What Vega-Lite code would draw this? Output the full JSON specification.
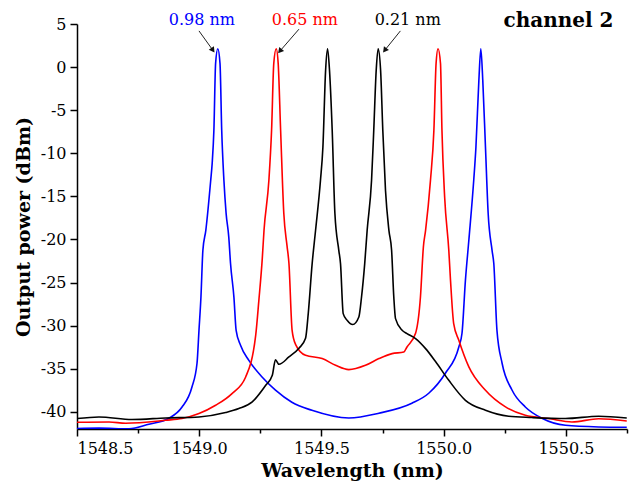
{
  "$schema": "https://vega.github.io/schema/vega-lite/v6.json",
  "width": 550,
  "height": 405,
  "autosize": {"type": "none"},
  "padding": {"left": 77, "top": 24, "right": 2, "bottom": 58},
  "background": "white",
  "config": {
    "view": {"stroke": null},
    "font": "DejaVu Serif",
    "axis": {
      "domainColor": "black", "domainWidth": 1.5, "tickColor": "black", "tickWidth": 1.5,
      "labelFont": "DejaVu Serif", "labelFontSize": 16, "labelColor": "black",
      "titleFont": "DejaVu Serif", "titleFontSize": 19, "titleFontWeight": "bold", "titleColor": "black",
      "grid": false, "labelOverlap": false
    }
  },
  "datasets": {
    "spectra": [
      {"s":"blue","wl":1548.500,"p":-41.95},{"s":"blue","wl":1548.590,"p":-41.9},{"s":"blue","wl":1548.713,"p":-41.97},{"s":"blue","wl":1548.794,"p":-41.45},{"s":"blue","wl":1548.876,"p":-40.75},{"s":"blue","wl":1548.929,"p":-39.48},{"s":"blue","wl":1548.970,"p":-37.16},{"s":"blue","wl":1548.991,"p":-34.37},{"s":"blue","wl":1548.999,"p":-30.55},{"s":"blue","wl":1549.007,"p":-26.72},{"s":"blue","wl":1549.015,"p":-21.26},{"s":"blue","wl":1549.027,"p":-18.94},{"s":"blue","wl":1549.047,"p":-13.14},{"s":"blue","wl":1549.053,"p":-11.17},{"s":"blue","wl":1549.060,"p":-7.34},{"s":"blue","wl":1549.067,"p":0.43},{"s":"blue","wl":1549.076,"p":2.13},{"s":"blue","wl":1549.085,"p":0.43},{"s":"blue","wl":1549.092,"p":-7.34},{"s":"blue","wl":1549.101,"p":-13.14},{"s":"blue","wl":1549.110,"p":-16.97},{"s":"blue","wl":1549.121,"p":-19.76},{"s":"blue","wl":1549.128,"p":-22.77},{"s":"blue","wl":1549.142,"p":-26.72},{"s":"blue","wl":1549.151,"p":-30.55},{"s":"blue","wl":1549.169,"p":-32.29},{"s":"blue","wl":1549.203,"p":-34.03},{"s":"blue","wl":1549.258,"p":-36.0},{"s":"blue","wl":1549.312,"p":-37.5},{"s":"blue","wl":1549.379,"p":-38.9},{"s":"blue","wl":1549.461,"p":-39.83},{"s":"blue","wl":1549.612,"p":-40.72},{"s":"blue","wl":1549.735,"p":-40.17},{"s":"blue","wl":1549.870,"p":-39.01},{"s":"blue","wl":1549.939,"p":-37.85},{"s":"blue","wl":1550.007,"p":-35.53},{"s":"blue","wl":1550.062,"p":-32.48},{"s":"blue","wl":1550.075,"p":-30.89},{"s":"blue","wl":1550.089,"p":-24.75},{"s":"blue","wl":1550.103,"p":-20.10},{"s":"blue","wl":1550.123,"p":-13.14},{"s":"blue","wl":1550.132,"p":-9.28},{"s":"blue","wl":1550.144,"p":-1.54},{"s":"blue","wl":1550.152,"p":2.13},{"s":"blue","wl":1550.160,"p":-1.54},{"s":"blue","wl":1550.171,"p":-9.28},{"s":"blue","wl":1550.182,"p":-16.97},{"s":"blue","wl":1550.198,"p":-21.26},{"s":"blue","wl":1550.205,"p":-22.77},{"s":"blue","wl":1550.218,"p":-30.55},{"s":"blue","wl":1550.239,"p":-34.37},{"s":"blue","wl":1550.280,"p":-37.5},{"s":"blue","wl":1550.334,"p":-39.44},{"s":"blue","wl":1550.402,"p":-40.75},{"s":"blue","wl":1550.498,"p":-41.57},{"s":"blue","wl":1550.634,"p":-41.76},{"s":"blue","wl":1550.749,"p":-41.8},
      {"s":"red","wl":1548.500,"p":-41.22},{"s":"red","wl":1548.631,"p":-41.18},{"s":"red","wl":1548.699,"p":-41.33},{"s":"red","wl":1548.863,"p":-40.99},{"s":"red","wl":1548.929,"p":-40.79},{"s":"red","wl":1548.999,"p":-40.21},{"s":"red","wl":1549.067,"p":-39.25},{"s":"red","wl":1549.134,"p":-37.89},{"s":"red","wl":1549.190,"p":-35.96},{"s":"red","wl":1549.231,"p":-31.13},{"s":"red","wl":1549.244,"p":-27.07},{"s":"red","wl":1549.258,"p":-22.2},{"s":"red","wl":1549.265,"p":-18.97},{"s":"red","wl":1549.285,"p":-13.14},{"s":"red","wl":1549.296,"p":-7.34},{"s":"red","wl":1549.305,"p":0.43},{"s":"red","wl":1549.315,"p":2.13},{"s":"red","wl":1549.323,"p":0.43},{"s":"red","wl":1549.333,"p":-7.34},{"s":"red","wl":1549.346,"p":-16.97},{"s":"red","wl":1549.359,"p":-20.7},{"s":"red","wl":1549.367,"p":-22.77},{"s":"red","wl":1549.380,"p":-30.55},{"s":"red","wl":1549.394,"p":-32.17},{"s":"red","wl":1549.435,"p":-33.45},{"s":"red","wl":1549.503,"p":-33.83},{"s":"red","wl":1549.558,"p":-34.61},{"s":"red","wl":1549.612,"p":-35.11},{"s":"red","wl":1549.680,"p":-34.61},{"s":"red","wl":1549.735,"p":-33.83},{"s":"red","wl":1549.789,"p":-33.25},{"s":"red","wl":1549.837,"p":-33.06},{"s":"red","wl":1549.850,"p":-32.48},{"s":"red","wl":1549.885,"p":-30.89},{"s":"red","wl":1549.905,"p":-26.68},{"s":"red","wl":1549.917,"p":-20.88},{"s":"red","wl":1549.926,"p":-18.94},{"s":"red","wl":1549.946,"p":-13.14},{"s":"red","wl":1549.960,"p":-7.34},{"s":"red","wl":1549.969,"p":0.43},{"s":"red","wl":1549.977,"p":2.13},{"s":"red","wl":1549.987,"p":0.43},{"s":"red","wl":1549.993,"p":-7.34},{"s":"red","wl":1550.004,"p":-15.08},{"s":"red","wl":1550.021,"p":-21.26},{"s":"red","wl":1550.028,"p":-24.75},{"s":"red","wl":1550.041,"p":-29.77},{"s":"red","wl":1550.062,"p":-31.71},{"s":"red","wl":1550.103,"p":-34.80},{"s":"red","wl":1550.171,"p":-37.51},{"s":"red","wl":1550.253,"p":-39.44},{"s":"red","wl":1550.334,"p":-40.41},{"s":"red","wl":1550.430,"p":-40.79},{"s":"red","wl":1550.525,"p":-41.18},{"s":"red","wl":1550.634,"p":-40.81},{"s":"red","wl":1550.749,"p":-41.07},
      {"s":"black","wl":1548.500,"p":-40.79},{"s":"black","wl":1548.590,"p":-40.60},{"s":"black","wl":1548.725,"p":-40.90},{"s":"black","wl":1548.863,"p":-40.72},{"s":"black","wl":1548.999,"p":-40.60},{"s":"black","wl":1549.108,"p":-40.09},{"s":"black","wl":1549.162,"p":-39.63},{"s":"black","wl":1549.217,"p":-38.86},{"s":"black","wl":1549.272,"p":-36.93},{"s":"black","wl":1549.299,"p":-35.77},{"s":"black","wl":1549.312,"p":-33.97},{"s":"black","wl":1549.326,"p":-34.49},{"s":"black","wl":1549.367,"p":-33.64},{"s":"black","wl":1549.408,"p":-32.63},{"s":"black","wl":1549.435,"p":-31.47},{"s":"black","wl":1549.446,"p":-28.61},{"s":"black","wl":1549.462,"p":-22.81},{"s":"black","wl":1549.476,"p":-18.94},{"s":"black","wl":1549.496,"p":-13.14},{"s":"black","wl":1549.506,"p":-9.28},{"s":"black","wl":1549.517,"p":-0.38},{"s":"black","wl":1549.525,"p":2.13},{"s":"black","wl":1549.533,"p":-0.38},{"s":"black","wl":1549.544,"p":-7.34},{"s":"black","wl":1549.555,"p":-16.97},{"s":"black","wl":1549.571,"p":-21.26},{"s":"black","wl":1549.578,"p":-22.81},{"s":"black","wl":1549.589,"p":-28.61},{"s":"black","wl":1549.605,"p":-29.39},{"s":"black","wl":1549.628,"p":-29.88},{"s":"black","wl":1549.653,"p":-29.0},{"s":"black","wl":1549.664,"p":-26.68},{"s":"black","wl":1549.677,"p":-22.81},{"s":"black","wl":1549.687,"p":-18.94},{"s":"black","wl":1549.705,"p":-13.14},{"s":"black","wl":1549.714,"p":-7.34},{"s":"black","wl":1549.724,"p":-0.38},{"s":"black","wl":1549.732,"p":2.13},{"s":"black","wl":1549.742,"p":-0.38},{"s":"black","wl":1549.751,"p":-7.34},{"s":"black","wl":1549.762,"p":-14.30},{"s":"black","wl":1549.776,"p":-18.94},{"s":"black","wl":1549.787,"p":-21.26},{"s":"black","wl":1549.796,"p":-26.68},{"s":"black","wl":1549.803,"p":-29.19},{"s":"black","wl":1549.830,"p":-30.55},{"s":"black","wl":1549.850,"p":-30.93},{"s":"black","wl":1549.885,"p":-31.51},{"s":"black","wl":1549.926,"p":-32.67},{"s":"black","wl":1549.966,"p":-34.14},{"s":"black","wl":1550.021,"p":-36.35},{"s":"black","wl":1550.089,"p":-38.67},{"s":"black","wl":1550.171,"p":-39.83},{"s":"black","wl":1550.266,"p":-40.52},{"s":"black","wl":1550.361,"p":-40.67},{"s":"black","wl":1550.498,"p":-40.79},{"s":"black","wl":1550.634,"p":-40.52},{"s":"black","wl":1550.749,"p":-40.72}
    ],
    "notes": [
      {"s":"blue","label":"0.98 nm","tx":1549.011,"ty":5.45,"x1":1548.999,"y1":4.2,"x2":1549.056,"y2":1.95},
      {"s":"red","label":"0.65 nm","tx":1549.432,"ty":5.45,"x1":1549.408,"y1":4.4,"x2":1549.330,"y2":1.85},
      {"s":"black","label":"0.21 nm","tx":1549.853,"ty":5.45,"x1":1549.823,"y1":4.2,"x2":1549.759,"y2":1.95}
    ],
    "title": [{"label":"channel 2","tx":1550.47,"ty":5.4}]
  },
  "layer": [
    {
      "data": {"name": "spectra"},
      "mark": {"type": "line", "strokeWidth": 1.6, "clip": true, "interpolate": "monotone"},
      "encoding": {
        "x": {"field": "wl", "type": "quantitative",
          "scale": {"domain": [1548.5, 1550.75], "nice": false, "zero": false},
          "axis": {"title": "Wavelength (nm)", "values": [1548.5,1548.75,1549.0,1549.25,1549.5,1549.75,1550.0,1550.25,1550.5,1550.75],
            "labelExpr": "abs(datum.value*2 - round(datum.value*2)) < 0.01 ? format(datum.value, '.1f') : ''",
            "tickSize": {"condition": {"test": "abs(datum.value*2 - round(datum.value*2)) > 0.01", "value": 4}, "value": 7},
            "labelPadding": 4, "titlePadding": 5}},
        "y": {"field": "p", "type": "quantitative",
          "scale": {"domain": [-42, 5], "nice": false, "zero": false},
          "axis": {"title": "Output power (dBm)", "values": [-40,-37.5,-35,-32.5,-30,-27.5,-25,-22.5,-20,-17.5,-15,-12.5,-10,-7.5,-5,-2.5,0,2.5,5],
            "labelExpr": "datum.value % 5 == 0 ? replace(format(datum.value, 'd'), '\u2212', '-') : ''",
            "tickSize": {"condition": {"test": "datum.value % 5 != 0", "value": 4}, "value": 7},
            "labelPadding": 4, "titlePadding": 7}},
        "color": {"field": "s", "type": "nominal", "scale": {"domain": ["blue","red","black"], "range": ["#0000ff","#ff0000","#000000"]}, "legend": null},
        "detail": {"field": "s"}
      }
    },
    {
      "data": {"name": "notes"},
      "mark": {"type": "rule", "strokeWidth": 1, "color": "#222222"},
      "encoding": {
        "x": {"field": "x1", "type": "quantitative"},
        "y": {"field": "y1", "type": "quantitative"},
        "x2": {"field": "x2"},
        "y2": {"field": "y2"}
      }
    },
    {
      "data": {"name": "notes"},
      "transform": [{"filter": "datum.s == 'blue'"}],
      "mark": {"type": "point", "shape": "triangle-up", "filled": true, "color": "#111111", "size": 40, "angle": 145, "opacity": 1},
      "encoding": {"x": {"field": "x2", "type": "quantitative"}, "y": {"field": "y2", "type": "quantitative"}}
    },
    {
      "data": {"name": "notes"},
      "transform": [{"filter": "datum.s == 'red'"}],
      "mark": {"type": "point", "shape": "triangle-up", "filled": true, "color": "#111111", "size": 40, "angle": 220, "opacity": 1},
      "encoding": {"x": {"field": "x2", "type": "quantitative"}, "y": {"field": "y2", "type": "quantitative"}}
    },
    {
      "data": {"name": "notes"},
      "transform": [{"filter": "datum.s == 'black'"}],
      "mark": {"type": "point", "shape": "triangle-up", "filled": true, "color": "#111111", "size": 40, "angle": 218, "opacity": 1},
      "encoding": {"x": {"field": "x2", "type": "quantitative"}, "y": {"field": "y2", "type": "quantitative"}}
    },
    {
      "data": {"name": "notes"},
      "mark": {"type": "text", "font": "DejaVu Serif", "fontSize": 16, "baseline": "middle", "align": "center"},
      "encoding": {
        "x": {"field": "tx", "type": "quantitative"},
        "y": {"field": "ty", "type": "quantitative"},
        "text": {"field": "label"},
        "color": {"field": "s", "type": "nominal", "scale": {"domain": ["blue","red","black"], "range": ["#0000ff","#ff0000","#000000"]}, "legend": null}
      }
    },
    {
      "data": {"name": "title"},
      "mark": {"type": "text", "font": "DejaVu Serif", "fontSize": 20, "fontWeight": "bold", "baseline": "middle", "align": "center", "color": "black"},
      "encoding": {
        "x": {"field": "tx", "type": "quantitative"},
        "y": {"field": "ty", "type": "quantitative"},
        "text": {"field": "label"}
      }
    }
  ]
}
